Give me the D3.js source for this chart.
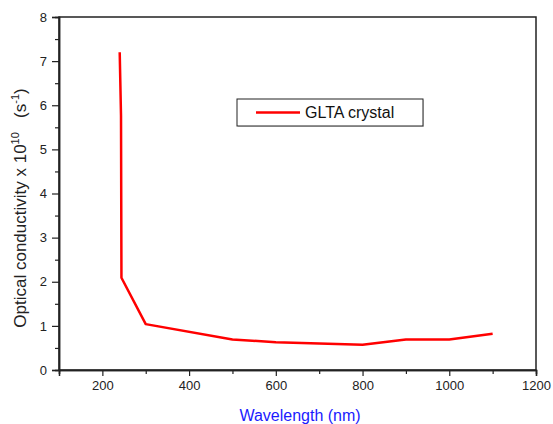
<!DOCTYPE html>
<html>
<head>
  <style>
    body { margin: 0; padding: 0; background: #fff; }
    text { font-family: Arial, "Liberation Sans", sans-serif; }
  </style>
</head>
<body>
  <div id="chart"></div>
  <script src="https://d3js.org/d3.v7.min.js"></script>
  <script>
    // values
    var wavelength = [240, 243, 244, 300, 500, 600, 800, 900, 1000, 1100];
    var conductivity = [7.2, 5.76, 2.09, 1.04, 0.69, 0.63, 0.57, 0.69, 0.69, 0.82];
    var seriesName = 'GLTA crystal';
    var xTicks = [200, 400, 600, 800, 1000, 1200];
    var xMinor = [100, 300, 500, 700, 900, 1100];
    var yTicks = [0, 1, 2, 3, 4, 5, 6, 7, 8];
    var yMinor = [0.5, 1.5, 2.5, 3.5, 4.5, 5.5, 6.5, 7.5];

    var width = 553, height = 424;
    var margin = {left: 59, right: 17, top: 17, bottom: 54};

    var svg = d3.select('#chart').append('svg')
      .attr('width', width).attr('height', height);

    var x = d3.scaleLinear().domain([100, 1200]).range([margin.left, width - margin.right]);
    var y = d3.scaleLinear().domain([0, 8]).range([height - margin.bottom, margin.top]);

    // frame
    svg.append('rect')
      .attr('x', x(100)).attr('y', y(8))
      .attr('width', x(1200) - x(100)).attr('height', y(0) - y(8))
      .attr('fill', 'none').attr('stroke', '#222').attr('stroke-width', 1.5);

    // x axis
    svg.append('g').attr('transform', 'translate(0,' + y(0) + ')')
      .call(d3.axisBottom(x).tickValues(xTicks).tickSize(6).tickPadding(5).tickFormat(d3.format('d')));
    svg.append('g').attr('transform', 'translate(0,' + y(0) + ')')
      .call(d3.axisBottom(x).tickValues(xMinor).tickSize(4).tickFormat(''));

    // y axis
    svg.append('g').attr('transform', 'translate(' + x(100) + ',0)')
      .call(d3.axisLeft(y).tickValues(yTicks).tickSize(7).tickPadding(5));
    svg.append('g').attr('transform', 'translate(' + x(100) + ',0)')
      .call(d3.axisLeft(y).tickValues(yMinor).tickSize(4).tickFormat(''));

    svg.selectAll('.domain').attr('stroke', '#222').attr('stroke-width', 1.5);
    svg.selectAll('.tick line').attr('stroke', '#222').attr('stroke-width', 1.2);
    svg.selectAll('.tick text')
      .attr('fill', '#222').style('font-size', '13px')
      .style('font-family', 'Arial, "Liberation Sans", sans-serif');

    // line
    var line = d3.line()
      .x(function(d, i) { return x(wavelength[i]); })
      .y(function(d) { return y(d); });
    svg.append('path')
      .datum(conductivity)
      .attr('d', line)
      .attr('fill', 'none')
      .attr('stroke', '#ff0000')
      .attr('stroke-width', 2.5)
      .attr('stroke-linejoin', 'round');

    // axis titles
    svg.append('text')
      .attr('x', 300).attr('y', 421)
      .attr('text-anchor', 'middle')
      .attr('fill', '#1a1aff')
      .style('font-size', '16px')
      .text('Wavelength (nm)');

    var yt = svg.append('text')
      .attr('transform', 'translate(26,208) rotate(-90)')
      .attr('text-anchor', 'middle')
      .attr('fill', '#222')
      .style('font-size', '17px');
    yt.append('tspan').text('Optical conductivity x 10');
    yt.append('tspan').attr('dy', -7).style('font-size', '11px').text('10');
    yt.append('tspan').attr('dy', 7).text('\u00a0\u00a0 (s');
    yt.append('tspan').attr('dy', -7).style('font-size', '11px').text('-1');
    yt.append('tspan').attr('dy', 7).text(')');

    // legend
    var lg = svg.append('g');
    lg.append('rect')
      .attr('x', 238).attr('y', 100).attr('width', 186).attr('height', 27)
      .attr('fill', '#ddd');
    lg.append('rect')
      .attr('x', 237).attr('y', 99).attr('width', 186).attr('height', 27)
      .attr('fill', '#fff').attr('stroke', '#222').attr('stroke-width', 1);
    lg.append('line')
      .attr('x1', 256).attr('x2', 300).attr('y1', 112.5).attr('y2', 112.5)
      .attr('stroke', '#ff0000').attr('stroke-width', 2.5);
    lg.append('text')
      .attr('x', 305).attr('y', 118)
      .attr('fill', '#111')
      .style('font-size', '16px')
      .text(seriesName);
  </script>
</body>
</html>
